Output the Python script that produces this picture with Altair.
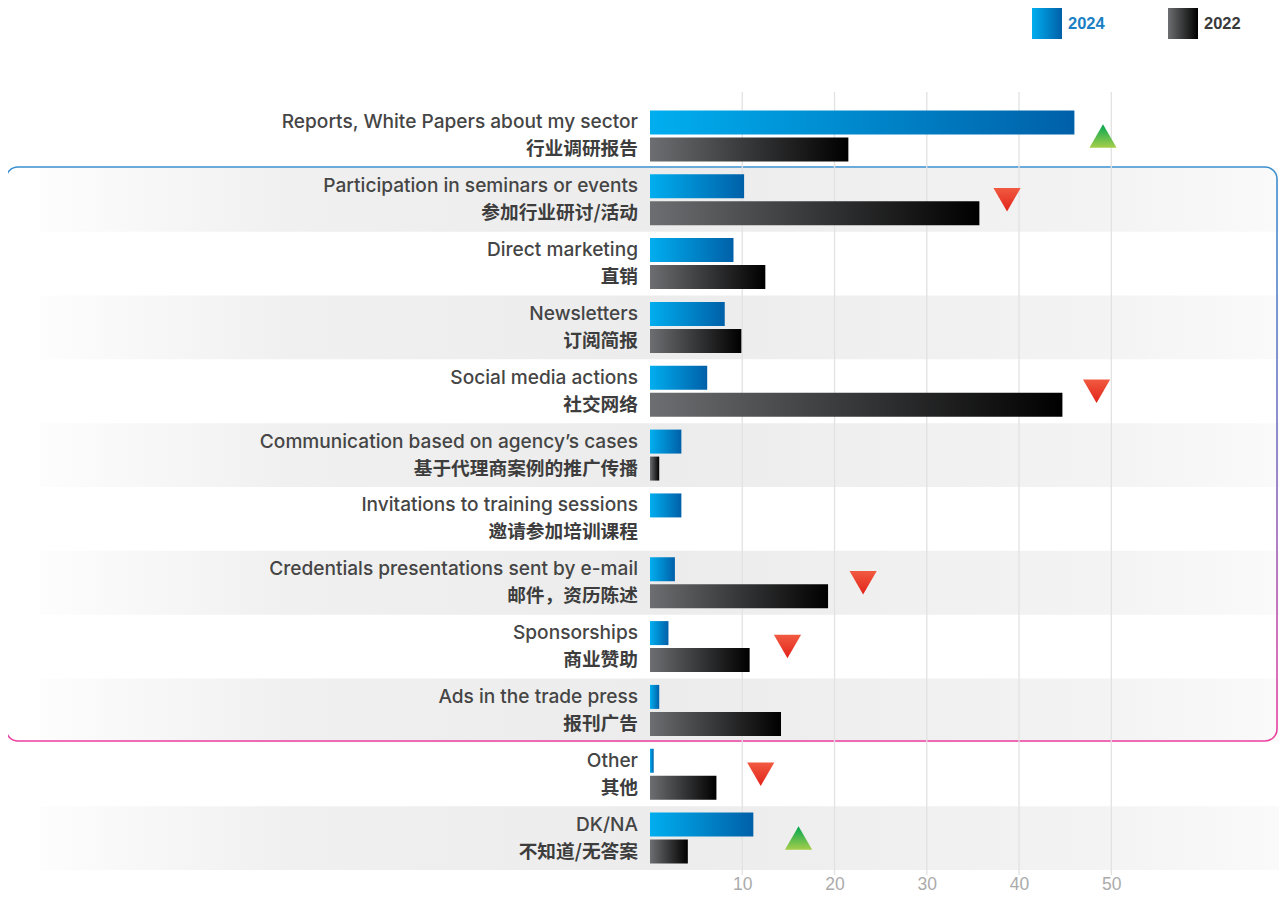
import altair as alt
import pandas as pd

# ---------------- data ----------------
categories_en = [
    "Reports, White Papers about my sector",
    "Participation in seminars or events",
    "Direct marketing",
    "Newsletters",
    "Social media actions",
    "Communication based on agency\u2019s cases",
    "Invitations to training sessions",
    "Credentials presentations sent by e-mail",
    "Sponsorships",
    "Ads in the trade press",
    "Other",
    "DK/NA",
]
categories_zh = [
    "行业调研报告",
    "参加行业研讨/活动",
    "直销",
    "订阅简报",
    "社交网络",
    "基于代理商案例的推广传播",
    "邀请参加培训课程",
    "邮件，资历陈述",
    "商业赞助",
    "报刊广告",
    "其他",
    "不知道/无答案",
]
values_2024 = [46.0, 10.2, 9.05, 8.1, 6.2, 3.4, 3.4, 2.7, 2.0, 1.0, 0.4, 11.2]
values_2022 = [21.5, 35.7, 12.5, 9.9, 44.7, 1.0, 0.0, 19.3, 10.8, 14.2, 7.2, 4.1]
years = ["2024", "2022"]

marker_cats = [0, 1, 4, 7, 8, 10, 11]
marker_pos = [49.1, 38.7, 48.4, 23.1, 14.9, 12.0, 16.1]
marker_dir = ["up", "down", "down", "down", "down", "down", "up"]

grid_values = [10, 20, 30, 40, 50]
shaded_rows = [1, 3, 5, 7, 9, 11]

# ---------------- tables ----------------
rows = []
for i, cat in enumerate(categories_en):
    rows.append({"cat": cat, "year": "2024", "value": values_2024[i], "label": categories_en[i]})
    rows.append({"cat": cat, "year": "2022", "value": values_2022[i], "label": categories_zh[i]})
bars = pd.DataFrame(rows)
bands = pd.DataFrame({"cat": [categories_en[i] for i in shaded_rows]})
markers = pd.DataFrame({
    "cat": [categories_en[i] for i in marker_cats],
    "pos": marker_pos,
    "dir": marker_dir,
})
grid = pd.DataFrame({"g": grid_values})

W, H = 620, 766
x_scale = alt.Scale(domain=[0, 67.2], nice=False, zero=True)
x_axis = alt.Axis(values=grid_values, grid=False, domain=False, ticks=False,
                  labelFontSize=17.5, labelColor="#ababab", labelPadding=5,
                  labelFont="Liberation Sans", title=None, orient="bottom")
y_enc = alt.Y("cat:N", sort=categories_en,
              scale=alt.Scale(paddingInner=0, paddingOuter=0), axis=None)
yoff = alt.YOffset("year:N", sort=years,
                   scale=alt.Scale(domain=years, paddingInner=0.111, paddingOuter=0.238))

band_grad = alt.Gradient(gradient="linear", x1=0, x2=1, y1=0, y2=0, stops=[
    alt.GradientStop(offset=0, color="#fdfdfd"),
    alt.GradientStop(offset=0.2, color="#f0f0f0"),
    alt.GradientStop(offset=0.5, color="#ececec"),
    alt.GradientStop(offset=0.85, color="#f3f3f3"),
    alt.GradientStop(offset=1, color="#fafafa"),
])
blue_grad = alt.Gradient(gradient="linear", x1=0, x2=1, y1=0, y2=0, stops=[
    alt.GradientStop(offset=0, color="#00aeef"),
    alt.GradientStop(offset=1, color="#0060a8"),
])
black_grad = alt.Gradient(gradient="linear", x1=0, x2=1, y1=0, y2=0, stops=[
    alt.GradientStop(offset=0, color="#6d6e71"),
    alt.GradientStop(offset=1, color="#000000"),
])
green_grad = alt.Gradient(gradient="linear", x1=0, x2=0, y1=0, y2=1, stops=[
    alt.GradientStop(offset=0, color="#00a651"),
    alt.GradientStop(offset=1, color="#a6ce4a"),
])
red_grad = alt.Gradient(gradient="linear", x1=0, x2=0, y1=0, y2=1, stops=[
    alt.GradientStop(offset=0, color="#f15a40"),
    alt.GradientStop(offset=1, color="#e2231a"),
])
box_grad = alt.Gradient(gradient="linear", x1=0, x2=0, y1=0, y2=1, stops=[
    alt.GradientStop(offset=0, color="#3a8fcf"),
    alt.GradientStop(offset=0.5, color="#7a6fc0"),
    alt.GradientStop(offset=1, color="#ec3fa0"),
])

band_layer = alt.Chart(bands).mark_rect(fill=band_grad).encode(
    y=y_enc, x=alt.value(-610), x2=alt.value(629)
)

box_layer = alt.Chart(pd.DataFrame({"k": [0]})).mark_rect(
    fillOpacity=0, stroke=box_grad, strokeWidth=1.6, cornerRadius=12
).encode(x=alt.value(-644), x2=alt.value(627), y=alt.value(63), y2=alt.value(637))

grid_layer = alt.Chart(grid).mark_rule(color="#e2e2e2", strokeWidth=1.3).encode(
    x=alt.X("g:Q", scale=x_scale, axis=x_axis), y=alt.value(-12), y2=alt.value(H + 5)
)

bar24 = alt.Chart(bars).transform_filter(alt.datum.year == "2024").mark_bar(
    fill=blue_grad, cornerRadius=0
).encode(x=alt.X("value:Q", scale=x_scale, axis=x_axis), y=y_enc, yOffset=yoff)

bar22 = alt.Chart(bars).transform_filter(alt.datum.year == "2022").mark_bar(
    fill=black_grad, cornerRadius=0
).encode(x=alt.X("value:Q", scale=x_scale, axis=x_axis), y=y_enc, yOffset=yoff)

label_en = alt.Chart(bars).transform_filter(alt.datum.year == "2024").mark_text(
    align="right", baseline="middle", font="Inter", fontSize=19.1, fontWeight=500, color="#454545"
).encode(text="label:N", x=alt.value(-12), y=y_enc, yOffset=yoff)

label_zh = alt.Chart(bars).transform_filter(alt.datum.year == "2022").mark_text(
    align="right", baseline="middle", font="Noto Sans CJK SC", fontSize=18.7, fontWeight="bold", color="#3d3d3d"
).encode(text="label:N", x=alt.value(-12), y=y_enc, yOffset=yoff)

up_layer = alt.Chart(markers).transform_filter(alt.datum.dir == "up").mark_point(
    shape="triangle-up", filled=True, fill=green_grad, size=740, opacity=1, strokeWidth=0
).encode(x=alt.X("pos:Q", scale=x_scale, axis=x_axis), y=y_enc)

down_layer = alt.Chart(markers).transform_filter(alt.datum.dir == "down").mark_point(
    shape="triangle-down", filled=True, fill=red_grad, size=740, opacity=1, strokeWidth=0
).encode(x=alt.X("pos:Q", scale=x_scale, axis=x_axis), y=y_enc)

legend_df = pd.DataFrame({"year": years})
leg_sw24 = alt.Chart(legend_df).transform_filter(alt.datum.year == "2024").mark_rect(fill=blue_grad).encode(
    x=alt.value(382), x2=alt.value(412), y=alt.value(-96), y2=alt.value(-65))
leg_tx24 = alt.Chart(legend_df).transform_filter(alt.datum.year == "2024").mark_text(
    align="left", baseline="middle", font="Liberation Sans", fontSize=16.5, fontWeight="bold", color="#1a7fc4"
).encode(text="year:N", x=alt.value(418), y=alt.value(-80))
leg_sw22 = alt.Chart(legend_df).transform_filter(alt.datum.year == "2022").mark_rect(fill=black_grad).encode(
    x=alt.value(518), x2=alt.value(548), y=alt.value(-96), y2=alt.value(-65))
leg_tx22 = alt.Chart(legend_df).transform_filter(alt.datum.year == "2022").mark_text(
    align="left", baseline="middle", font="Liberation Sans", fontSize=16.5, fontWeight="bold", color="#3a3a3a"
).encode(text="year:N", x=alt.value(554), y=alt.value(-80))

chart = alt.layer(
    band_layer, box_layer, grid_layer, bar24, bar22, label_en, label_zh,
    up_layer, down_layer, leg_sw24, leg_tx24, leg_sw22, leg_tx22
).properties(
    width=W, height=H,
    autosize=alt.AutoSizeParams(type="none"),
    padding={"left": 642, "top": 96, "right": 9, "bottom": 23},
    background="white",
).configure_view(stroke=None)

chart.save("out.html", embed_options={"renderer": "svg", "actions": False})
